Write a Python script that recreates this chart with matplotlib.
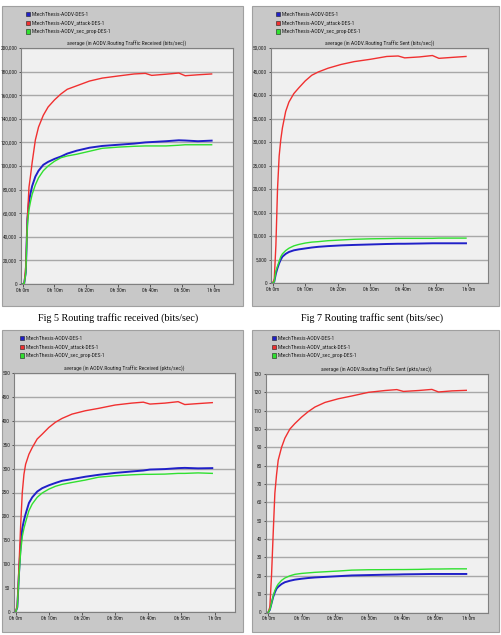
import matplotlib
matplotlib.use("Agg")
from matplotlib import pyplot as plt
from matplotlib.patches import Rectangle
from matplotlib.ticker import FuncFormatter
import numpy as np

W, H = 501, 635

# sample times (minutes) shared by all curves
t_min = [0, 0.5, 1, 1.5, 2, 2.5, 3, 4, 5, 6.5, 8, 10, 12, 14, 17, 21, 25,
         30, 35, 38.5, 40.5, 45, 49, 51, 55, 59.3]

series_names = ["MtechThesis-AODV-DES-1",
                "MtechThesis-AODV_attack-DES-1",
                "MtechThesis-AODV_sec_prop-DES-1"]

# Fig 5 - received bits/sec (thousands)
recv_bits_des = [0, 0.5, 10, 55, 70, 77, 83, 91, 96, 101, 103.5, 106, 108, 110.5, 113,
                 115.5, 117, 118, 119, 120, 120.3, 121, 121.8, 121.6, 121, 121.5]
recv_bits_attack = [0, 0, 15, 55, 82, 92, 103, 122, 133, 143, 150, 156, 161, 165, 168,
                    172, 174.5, 176.3, 178, 178.5, 176.8, 177.8, 178.8, 176.5, 177.3, 178]
recv_bits_sec = [0, 0.5, 9, 50, 63, 70, 76, 84, 90, 96, 100, 104, 107, 108.5, 110,
                 112.5, 115, 116, 116.7, 117, 117, 117, 117.6, 118, 118, 118]

# Fig 7 - sent bits/sec (thousands)
sent_bits_des = [0, 0.3, 2, 3.2, 4.2, 5.0, 5.6, 6.2, 6.6, 6.95, 7.15, 7.35, 7.55, 7.7, 7.85,
                 8.0, 8.1, 8.2, 8.3, 8.35, 8.35, 8.4, 8.45, 8.45, 8.45, 8.45]
sent_bits_attack = [0, 0.8, 8, 20, 27, 30.5, 33, 36.5, 38.5, 40.3, 41.5, 43, 44.2, 44.9, 45.7,
                    46.5, 47.1, 47.6, 48.2, 48.3, 47.9, 48.1, 48.4, 47.8, 48, 48.2]
sent_bits_sec = [0, 0.3, 2.5, 3.6, 4.6, 5.6, 6.2, 6.9, 7.4, 7.9, 8.2, 8.5, 8.7, 8.8, 9.0,
                 9.15, 9.3, 9.4, 9.45, 9.5, 9.5, 9.5, 9.5, 9.55, 9.55, 9.55]

# received pkts/sec
recv_pkts_des = [0, 10, 80, 140, 175, 192, 205, 228, 240, 252, 259, 265, 270, 274.5, 278,
                 283, 287, 291, 294, 296, 298, 299, 301, 301.5, 300.5, 301]
recv_pkts_attack = [0, 15, 96, 180, 250, 288, 309, 330, 344, 362, 372, 386, 397, 405, 414,
                    421, 426, 433, 437, 439, 435, 437, 440, 434, 436, 438]
recv_pkts_sec = [0, 10, 75, 125, 158, 175, 188, 212, 226, 240, 249, 257, 263, 267, 271,
                 276, 282, 285, 287, 288, 288, 288.5, 290, 290, 291, 290]

# sent pkts/sec
sent_pkts_des = [0, 1.5, 5, 8.5, 11, 13, 14, 15.5, 16.5, 17.3, 17.9, 18.4, 18.8, 19.1, 19.4,
                 19.8, 20.2, 20.4, 20.6, 20.7, 20.8, 20.9, 21.0, 21.0, 21, 21]
sent_pkts_attack = [0, 3, 20, 43, 65, 75, 83, 90, 95, 100, 103, 106.5, 109.5, 112, 114.5,
                    116.5, 118, 120, 121, 121.5, 120.5, 121, 121.6, 120.2, 120.8, 121.1]
sent_pkts_sec = [0, 1.5, 5, 9, 12, 14, 15.5, 17.5, 18.8, 20, 20.8, 21.3, 21.6, 21.9, 22.2,
                 22.6, 23.1, 23.3, 23.35, 23.4, 23.4, 23.5, 23.7, 23.7, 23.8, 23.8]

x_ticks = [0, 10, 20, 30, 40, 50, 60]
x_ticklabels = ["0h 0m", "0h 10m", "0h 20m", "0h 30m", "0h 40m", "0h 50m", "1h 0m"]

colors = ["#2020c8", "#f03030", "#30e030"]
widths = [1.4, 1.0, 1.0]
panel_bg = "#c8c8c8"
plot_bg = "#f0f0f0"
small = ["Roboto Condensed", "DejaVu Sans"]
small_size = 4.1
tick_size = 3.9

fig = plt.figure(figsize=(W / 100, H / 100), dpi=100)
fig.patch.set_facecolor("white")


def rect(x0, y0, x1, y1):
    return [x0 / W, 1 - y1 / H, (x1 - x0) / W, (y1 - y0) / H]


def panel(box, plot_px, legend_xy, title, ymax, ystep, fmt, data, scale, xlim):
    # gray frame behind everything
    bx0, by0, bx1, by1 = box
    fig.patches.append(Rectangle((bx0 / W, 1 - by1 / H), (bx1 - bx0) / W, (by1 - by0) / H,
                                 transform=fig.transFigure, facecolor=panel_bg,
                                 edgecolor="#a0a0a0", lw=0.8, zorder=-10))
    # legend
    lx, ly = legend_xy
    for i, name in enumerate(series_names):
        yy = ly + i * 8.8
        fig.patches.append(Rectangle(((lx - 2) / W, 1 - (yy + 2.2) / H), 4 / W, 4.4 / H,
                                     transform=fig.transFigure, facecolor=colors[i],
                                     edgecolor="#202020", lw=0.4, zorder=2))
        fig.text((lx + 4) / W, 1 - yy / H, name, fontsize=small_size, family=small,
                 va="center", ha="left", color="#202020")

    ax = fig.add_axes(rect(*plot_px))
    ax.set_zorder(1)
    ax.set_facecolor(plot_bg)
    for i, vals in enumerate(data):
        ax.plot(t_min, np.array(vals) * scale, color=colors[i], lw=widths[i], zorder=3)
    ax.set_xlim(*xlim)
    ax.set_ylim(0, ymax)
    ax.set_yticks(np.arange(0, ymax + ystep / 2, ystep))
    ax.yaxis.set_major_formatter(FuncFormatter(fmt))
    ax.set_xticks(x_ticks)
    ax.set_xticklabels(x_ticklabels)
    ax.grid(axis="y", color="#a8a8a8", lw=1.0)
    ax.set_axisbelow(True)
    for s in ax.spines.values():
        s.set_color("#808080")
        s.set_linewidth(0.8)
    ax.tick_params(labelsize=tick_size, length=1.8, width=0.6, color="#404040",
                   labelcolor="#202020", pad=1.0)
    for lab in ax.get_xticklabels() + ax.get_yticklabels():
        lab.set_family(small)
    ax.set_title(title, fontsize=small_size, family=small, pad=1.5, color="#202020")
    return ax


def thousands(v, pos):
    return "{:,.0f}".format(v)


panel((2, 6, 243, 306), (21, 48, 233, 284), (28, 14),
      "average (in AODV.Routing Traffic Received (bits/sec))",
      200000, 20000, thousands,
      [recv_bits_des, recv_bits_attack, recv_bits_sec], 1000, (-0.5, 66))

panel((252, 6, 499, 306), (271, 48, 488.5, 283), (278, 14),
      "average (in AODV.Routing Traffic Sent (bits/sec))",
      50000, 5000, thousands,
      [sent_bits_des, sent_bits_attack, sent_bits_sec], 1000, (-0.5, 66.2))

panel((2, 330, 243, 632), (14, 373, 234.5, 612), (22, 338),
      "average (in AODV.Routing Traffic Received (pkts/sec))",
      500, 50, thousands,
      [recv_pkts_des, recv_pkts_attack, recv_pkts_sec], 1, (-0.5, 66))

panel((252, 330, 499, 632), (265.5, 374, 488, 612.5), (274, 338),
      "average (in AODV.Routing Traffic Sent (pkts/sec))",
      130, 10, thousands,
      [sent_pkts_des, sent_pkts_attack, sent_pkts_sec], 1, (-0.8, 65.8))

fig.text(118.5 / W, 1 - 318 / H, "Fig 5 Routing traffic received (bits/sec)",
         fontsize=7.3, family="Liberation Serif", ha="center", va="center")
fig.text(372 / W, 1 - 318 / H, "Fig 7 Routing traffic sent (bits/sec)",
         fontsize=7.3, family="Liberation Serif", ha="center", va="center")

fig.savefig("out.png", dpi=100)
